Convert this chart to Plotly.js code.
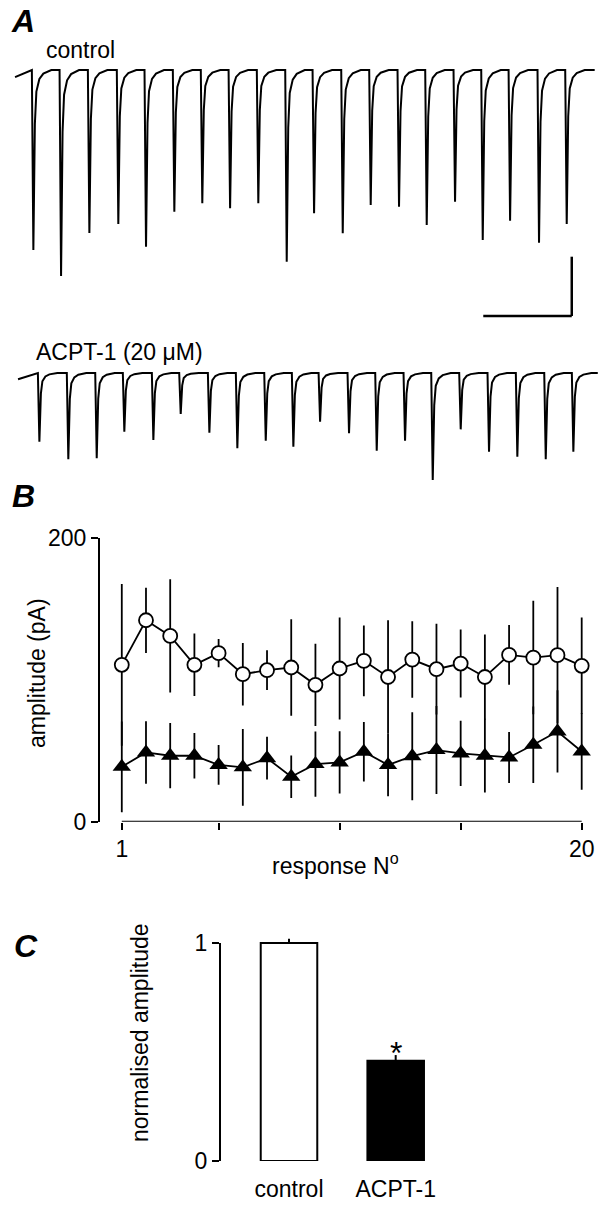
<!DOCTYPE html>
<html><head><meta charset="utf-8">
<script src="https://cdn.plot.ly/plotly-3.0.1.min.js"></script>
<style>html,body{margin:0;padding:0;background:#fff}#chart{width:603px;height:1206px}</style>
</head><body><div id="chart"></div>
<script>
// ---------- Panel A : example current traces (time in ms, current in pA) ----------
const ctrlPeakMs = [20.7, 52.0, 84.0, 116.7, 148.0, 180.0, 211.6, 243.0, 274.9, 307.0,
                    337.9, 370.3, 401.9, 433.9, 465.2, 497.2, 528.5, 559.4, 592.1, 623.4];
const ctrlAmpPA  = [151.8, 173.7, 137.4, 129.9, 149.0, 119.5, 112.4, 116.6, 112.4, 161.6,
                    120.8, 137.7, 113.8, 115.3, 130.7, 111.0, 143.3, 127.1, 145.6, 129.9];
const acptPeakMs = [27.5, 60.2, 92.3, 123.5, 156.3, 187.2, 219.6, 251.2, 283.3, 314.5,
                    344.7, 377.4, 408.7, 440.7, 472.0, 503.6, 535.6, 567.6, 599.7, 630.9];
const acptAmpPA  = [57.9, 72.8, 71.9, 49.5, 56.5, 34.6, 50.3, 63.5, 57.1, 62.1,
                    41.1, 50.8, 65.5, 57.1, 90.2, 47.5, 66.4, 70.6, 72.8, 66.4];
// single-response time course (ms after peak, fraction of peak)
const eventShapeMs   = [-1.7, 0, 1.7, 3.4, 6.8, 11.3, 20.3];
const eventShapeFrac = [0, 1, 0.3, 0.12, 0.05, 0.02, 0];
const ctrlStartEndMs = [0, 655];
const acptStartEndMs = [3.4, 658.5];
const ctrlStartLevelPA = -6;
const acptStartLevelPA = -5.3;
const scaleBarMs = 100;
const scaleBarPA = 50;

// ---------- Panel B : amplitude vs response number ----------
const responseNo = [1,2,3,4,5,6,7,8,9,10,11,12,13,14,15,16,17,18,19,20];
const controlAmp = [110.6, 142, 131, 110.6, 118.8, 104, 106.8, 108.7, 96.5, 108,
                    113.4, 102, 114.3, 107.5, 111.5, 102, 117.6, 115.7, 117.4, 109.9];
const controlSD  = [57, 23, 40, 22, 10, 22, 14, 34, 29, 36, 25, 40, 27, 32, 24, 30, 21, 40, 48, 34];
const acptAmp    = [38.7, 48.8, 46.5, 46.5, 40, 38.3, 44.8, 31.7, 40.6, 41.8,
                    49.3, 40, 46.2, 50.5, 48.1, 46.5, 45.3, 54.2, 63.6, 49.5];
const acptSD     = [32, 22, 23, 16, 14, 27, 15, 15, 23, 22, 21, 22, 31, 31, 23, 26, 18, 27, 29, 27];
const bLabelTicks = [1, 20];
const bMinorTicks = [5, 10, 15];

// ---------- Panel C : normalised amplitude ----------
const groups  = ['control', 'ACPT-1'];
const normAmp = [1, 0.46];
const normErr = [0.02, 0.026];
const normErrMinus = [0, 0];
const sigMark = ['', '*'];

// ---------- build traces ----------
function buildTrace(peaks, amps, startEnd, startLevel) {
  const xs = [startEnd[0]];
  const ys = [startLevel];
  for (let i = 0; i < peaks.length; i++) {
    for (let k = 0; k < eventShapeMs.length; k++) {
      xs.push(peaks[i] + eventShapeMs[k]);
      ys.push(-amps[i] * eventShapeFrac[k]);
    }
  }
  xs.push(startEnd[1]); ys.push(0);
  return {xs, ys};
}
const ctrl = buildTrace(ctrlPeakMs, ctrlAmpPA, ctrlStartEndMs, ctrlStartLevelPA);
const acpt = buildTrace(acptPeakMs, acptAmpPA, acptStartEndMs, acptStartLevelPA);

const W = 603, H = 1206;
const px = v => v / W;
const py = v => 1 - v / H;
const FONT = 'Liberation Sans, Arial, Helvetica, sans-serif';

const data = [
  {x: ctrl.xs, y: ctrl.ys, xaxis: 'x', yaxis: 'y', mode: 'lines',
   line: {color: '#000', width: 2}, hoverinfo: 'skip'},
  {x: acpt.xs, y: acpt.ys, xaxis: 'x2', yaxis: 'y2', mode: 'lines',
   line: {color: '#000', width: 2}, hoverinfo: 'skip'},
  {x: responseNo, y: acptAmp, xaxis: 'x3', yaxis: 'y3', mode: 'lines+markers',
   cliponaxis: false,
   line: {color: '#000', width: 1.8},
   marker: {symbol: 'triangle-up', size: 16, color: '#000'},
   error_y: {type: 'data', array: acptSD, visible: true, color: '#000', thickness: 1.8, width: 0}},
  {x: responseNo, y: controlAmp, xaxis: 'x3', yaxis: 'y3', mode: 'lines+markers',
   cliponaxis: false,
   line: {color: '#000', width: 1.8},
   marker: {symbol: 'circle', size: 14, color: '#fff', line: {color: '#000', width: 1.8}},
   error_y: {type: 'data', array: controlSD, visible: true, color: '#000', thickness: 1.8, width: 0}},
  {x: groups, y: normAmp, type: 'bar', xaxis: 'x4', yaxis: 'y4', width: 0.53,
   cliponaxis: false,
   marker: {color: ['#fff', '#000'], line: {color: '#000', width: 2}},
   error_y: {type: 'data', symmetric: false, array: normErr, arrayminus: normErrMinus,
             visible: true, color: '#000', thickness: 2, width: 0}}
];

const hidden = {visible: false, fixedrange: true};
const xRangeA = [-17, 664.4];
// panel B: 24.206 px per response, x=0.1 at px 100
const bPxPerUnit = 24.206;
// panel C: 218 px per unit, 0 at px 1161
const cPxPerUnit = 218;

const layout = {
  width: W, height: H,
  margin: {l: 0, r: 0, t: 0, b: 0},
  paper_bgcolor: '#fff', plot_bgcolor: 'rgba(0,0,0,0)',
  showlegend: false,
  font: {family: FONT, size: 23, color: '#000'},
  xaxis:  Object.assign({}, hidden, {domain: [0, 1], range: xRangeA, anchor: 'y'}),
  yaxis:  Object.assign({}, hidden, {domain: [py(330), py(60)], range: [-219.2, 8.43], anchor: 'x'}),
  xaxis2: Object.assign({}, hidden, {domain: [0, 1], range: xRangeA, anchor: 'y2'}),
  yaxis2: Object.assign({}, hidden, {domain: [py(490), py(355)], range: [-98.65, 15.18], anchor: 'x2'}),
  xaxis3: {domain: [px(100), px(100 + 20.5 * bPxPerUnit - 0.1 * bPxPerUnit)], range: [0.1, 20.5], anchor: 'y3',
           showline: false, zeroline: false, showgrid: false,
           ticks: 'outside', ticklen: 7, tickwidth: 2, tickcolor: '#000',
           tickvals: bLabelTicks, ticktext: bLabelTicks.map(String), tickfont: {size: 23},
           minor: {tickvals: bMinorTicks, ticks: 'outside', ticklen: 7, tickwidth: 2, tickcolor: '#000', showgrid: false}},
  yaxis3: {domain: [py(821.7), py(538)], range: [0, 200], anchor: 'x3',
           showline: true, linewidth: 2, linecolor: '#000', zeroline: false, showgrid: false,
           ticks: 'outside', ticklen: 7, tickwidth: 2, tickcolor: '#000',
           tickvals: [0, 200], ticktext: ['0', '200'], tickfont: {size: 23}},
  xaxis4: {domain: [px(220), px(450)], type: 'category', range: [-0.6467, 1.509], anchor: 'y4',
           showline: false, zeroline: false, showgrid: false,
           ticks: 'outside', ticklen: 7, tickcolor: 'rgba(0,0,0,0)', tickfont: {size: 23}},
  yaxis4: {domain: [py(1161), py(1161 - 1.1 * cPxPerUnit)], range: [0, 1.1], anchor: 'x4',
           showline: false, zeroline: false, showgrid: false,
           ticks: 'outside', ticklen: 7, tickwidth: 2, tickcolor: '#000',
           tickvals: [0, 1], ticktext: ['0', '1'], tickfont: {size: 23}},
  shapes: [
    // panel B x axis line from first to last response
    {type: 'line', xref: 'x3', yref: 'y3', x0: responseNo[0], x1: responseNo[responseNo.length - 1],
     y0: 0, y1: 0, line: {color: '#000', width: 2}},
    // panel C y axis line from 0 to 1
    {type: 'line', xref: 'x4 domain', yref: 'y4', x0: 0, x1: 0, y0: 0, y1: 1,
     line: {color: '#000', width: 2}},
    // scale bar (L shape) on control trace
    {type: 'line', xref: 'x', yref: 'y', x0: 629.1, x1: 629.1, y0: -207.4, y1: -207.4 + scaleBarPA,
     line: {color: '#000', width: 2.5}},
    {type: 'line', xref: 'x', yref: 'y', x0: 629.1 - scaleBarMs, x1: 629.1, y0: -207.4, y1: -207.4,
     line: {color: '#000', width: 2.5}}
  ],
  annotations: [
    {text: '<b><i>A</i></b>', xref: 'paper', yref: 'paper', x: px(9), y: py(21), xanchor: 'left', yanchor: 'middle',
     showarrow: false, font: {size: 32, family: FONT}},
    {text: '<b><i>B</i></b>', xref: 'paper', yref: 'paper', x: px(10), y: py(496), xanchor: 'left', yanchor: 'middle',
     showarrow: false, font: {size: 32, family: FONT}},
    {text: '<b><i>C</i></b>', xref: 'paper', yref: 'paper', x: px(12), y: py(946), xanchor: 'left', yanchor: 'middle',
     showarrow: false, font: {size: 32, family: FONT}},
    {text: 'control', xref: 'paper', yref: 'paper', x: px(44), y: py(50), xanchor: 'left', yanchor: 'middle',
     showarrow: false, font: {size: 23}},
    {text: 'ACPT-1 (20 μM)', xref: 'paper', yref: 'paper', x: px(34), y: py(352), xanchor: 'left', yanchor: 'middle',
     showarrow: false, font: {size: 23}},
    {text: 'amplitude (pA)', xref: 'paper', yref: 'paper', x: px(37), y: py(673), textangle: -90,
     xanchor: 'center', yanchor: 'middle', showarrow: false, font: {size: 23}},
    {text: 'response N<sup>o</sup>', xref: 'paper', yref: 'paper', x: px(335), y: py(864),
     xanchor: 'center', yanchor: 'middle', showarrow: false, font: {size: 23}},
    {text: 'normalised amplitude', xref: 'paper', yref: 'paper', x: px(140), y: py(1033), textangle: -90,
     xanchor: 'center', yanchor: 'middle', showarrow: false, font: {size: 23}},
    {text: sigMark[1], xref: 'x4', yref: 'y4', x: groups[1], y: normAmp[1] + normErr[1],
     xanchor: 'center', yanchor: 'middle', yshift: 2, showarrow: false, font: {size: 32}}
  ]
};

Plotly.newPlot('chart', data, layout, {staticPlot: true, displayModeBar: false});
</script>
</body></html>
